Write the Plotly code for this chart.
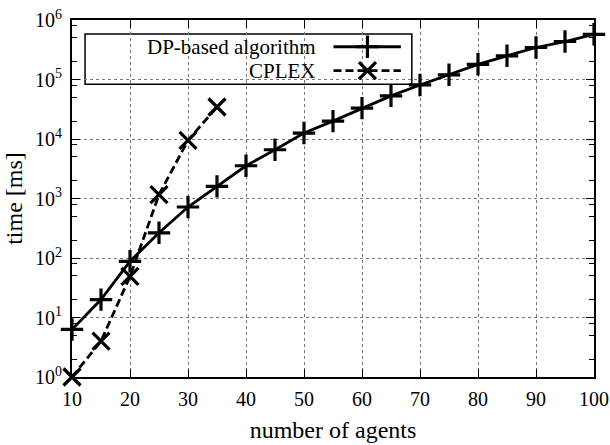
import plotly.graph_objects as go

agents_dp = [10, 15, 20, 25, 30, 35, 40, 45, 50, 55, 60, 65, 70, 75, 80, 85, 90, 95, 100]
time_dp = [6.3, 20, 88, 265, 720, 1600, 3550, 6600, 12600, 20000, 33000, 53000,
           81000, 120000, 180000, 250000, 345000, 435000, 575000]
agents_cplex = [10, 15, 20, 25, 30, 35]
time_cplex = [1.0, 4.0, 49, 1160, 9500, 34500]

series_names = ["DP-based algorithm", "CPLEX"]
x_ticks = [10, 20, 30, 40, 50, 60, 70, 80, 90, 100]
y_ticks = [1, 10, 100, 1000, 10000, 100000, 1000000]
y_ticktext = ["10<sup>%d</sup>" % i for i in range(7)]
y_minor = [m * 10 ** e for e in range(6) for m in (2, 5, 8)]

FONT = "Liberation Serif"
DASH = "8px,4px"
fig = go.Figure()

fig.add_trace(go.Scatter(
    x=agents_dp, y=time_dp, mode="lines+markers", name=series_names[0],
    line=dict(color="black", width=2.8),
    marker=dict(symbol="cross-thin", size=16, line=dict(color="black", width=3.2)),
    cliponaxis=False, showlegend=False))
fig.add_trace(go.Scatter(
    x=agents_cplex, y=time_cplex, mode="lines+markers", name=series_names[1],
    line=dict(color="black", width=2.8, dash=DASH),
    marker=dict(symbol="x-thin", size=17, line=dict(color="black", width=3.2)),
    cliponaxis=False, showlegend=False))

# custom legend (gnuplot style: text right, sample on right)
leg_rows = [0.925, 0.858]
styles = [("solid", "cross-thin", 16), (DASH, "x-thin", 17)]
for yy, (dash, sym, sz) in zip(leg_rows, styles):
    fig.add_trace(go.Scatter(
        x=[0.501, 0.630], y=[yy, yy], mode="lines", xaxis="x2", yaxis="y2",
        line=dict(color="black", width=2.8, dash=dash), showlegend=False, hoverinfo="skip"))
    fig.add_trace(go.Scatter(
        x=[0.566], y=[yy], mode="markers", xaxis="x2", yaxis="y2",
        marker=dict(symbol=sym, size=sz, line=dict(color="black", width=3.2)),
        showlegend=False, hoverinfo="skip"))

for yy, name in zip(leg_rows, series_names):
    fig.add_annotation(x=0.472, y=yy, xref="paper", yref="paper", text=name,
                       showarrow=False, xanchor="right", yanchor="middle",
                       font=dict(family=FONT, size=21, color="black"))

fig.add_shape(type="rect", xref="paper", yref="paper", x0=0.025, x1=0.651,
              y0=0.82, y1=0.961, line=dict(color="black", width=1.5),
              fillcolor="white", layer="below")

fig.update_layout(
    width=610, height=445,
    margin=dict(l=72, r=16, t=20, b=68),
    plot_bgcolor="white", paper_bgcolor="white",
    font=dict(family=FONT, size=20, color="black"),
    xaxis=dict(range=[10, 100], tickvals=x_ticks, ticks="inside", ticklen=8,
               tickwidth=1.4, tickcolor="black", showline=True, linecolor="black",
               linewidth=1.8, mirror="ticks", showgrid=True, gridcolor="#777",
               griddash="dot", gridwidth=1, zeroline=False, automargin=False,
               ticklabelstandoff=3,
               title=dict(text="number of agents", standoff=12),
               tickfont=dict(size=20)),
    yaxis=dict(type="log", range=[0, 6], tickvals=y_ticks, ticktext=y_ticktext,
               ticks="inside", ticklen=8, tickwidth=1.4, tickcolor="black",
               showline=True, linecolor="black", linewidth=1.8, mirror="ticks",
               showgrid=True, gridcolor="#777", griddash="dot", gridwidth=1,
               zeroline=False, automargin=False, ticklabelstandoff=4,
               title=dict(text="time [ms]", standoff=6),
               minor=dict(tickvals=y_minor, ticks="inside", ticklen=5,
                          tickcolor="black", tickwidth=1.3, showgrid=False),
               tickfont=dict(size=20)),
    xaxis2=dict(range=[0, 1], overlaying="x", visible=False, anchor="y2"),
    yaxis2=dict(range=[0, 1], overlaying="y", visible=False, anchor="x2"),
)

fig.write_html("out.html")
